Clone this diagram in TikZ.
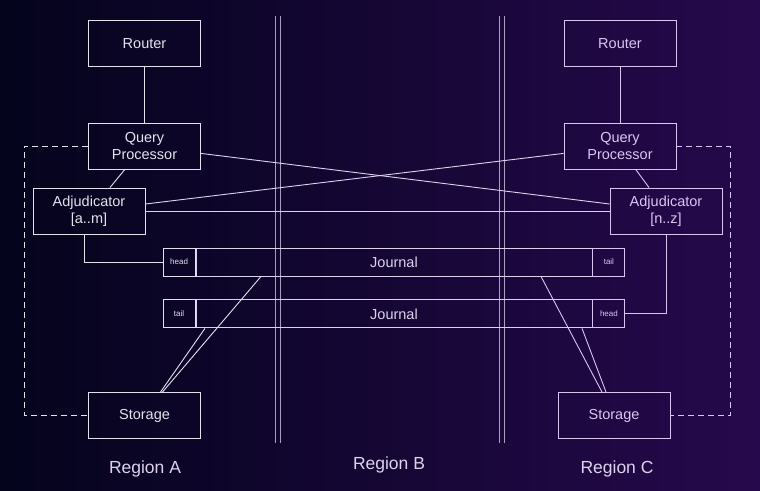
\documentclass[tikz,border=0pt]{standalone}
\usepackage{fontspec}
\setmainfont{Liberation Sans}
\usetikzlibrary{positioning}

\definecolor{bgleft}{HTML}{04041C}
\definecolor{bgright}{HTML}{26094C}
\definecolor{lineA}{HTML}{E2E2EC}
\definecolor{lineB}{HTML}{DDD2EE}
\definecolor{lineC}{HTML}{DCC4F2}

\begin{document}
\begin{tikzpicture}[x=1pt,y=-1pt,
			line width=0.9pt,
			box/.style={
				draw,
				minimum width=112pt,
				minimum height=46pt,
				inner sep=0pt,
				align=center,
				font=\fontsize{14.5}{17}\selectfont
			},
			jbox/.style={draw=lineB, text=lineB, minimum width=396pt, minimum height=28pt,
				inner sep=0pt, font=\fontsize{14.5}{17}\selectfont},
			tag/.style={draw, minimum width=32pt, minimum height=28pt,
				inner sep=0pt, font=\fontsize{8}{9}\selectfont},
			sideA/.style={draw=lineA, text=lineA},
			sideC/.style={draw=lineC, text=lineC},
			region/.style={font=\fontsize{17.5}{20}\selectfont, text=lineB},
			dashlink/.style={dash pattern=on 6pt off 4pt},
			node distance=56pt]
			
			\shade[left color=bgleft, right color=bgright] (0,0) rectangle (760,490);
			\useasboundingbox (0,0) rectangle (760,490);
			
			% region borders
			\foreach \sx in {275,280,499,504}
				\draw[lineB, line width=0.7pt, opacity=0.75] (\sx,16) -- (\sx,443);
			
			% region A
			\node[box, sideA] (routerA) at (144.5,43.5) {Router};
			
			\node[box, sideA, below=of routerA] (queryA) {Query\\Processor};
			
			\node[box, sideA] (adjA) at (89,211) {Adjudicator\\{[a..m]}};
			
			\node[box, sideA] (storA) at (144.5,415.5) {Storage};
			
			% region C
			\node[box, sideC] (routerC) at (620,43.5) {Router};
			
			\node[box, sideC, below=of routerC] (queryC) {Query\\Processor};
			
			\node[box, sideC] (adjC) at (666,211) {Adjudicator\\{[n..z]}};
			
			\node[box, sideC] (storC) at (614,415.5) {Storage};
			
			% journals
			\node[jbox] (journalTop) at (394,262) {Journal};
			
			\node[tag, sideA, left=0pt of journalTop] (headA) {head};
			
			\node[tag, sideC, right=0pt of journalTop] (tailC) {tail};
			
			\node[jbox, below=23pt of journalTop] (journalBot) {Journal};
			
			\node[tag, sideA, left=0pt of journalBot] (tailA) {tail};
			
			\node[tag, sideC, right=0pt of journalBot] (headC) {head};
			
			% labels
			\node[region] (labelA) at (145,469) {Region A};
			
			\node[region] (labelB) at (389,465) {Region B};
			
			\node[region] (labelC) at (617,469) {Region C};
			
			\draw[lineA](routerA)--(queryA);
			
			\draw[lineA]([xshift=-20pt]queryA.south)--([xshift=21pt]adjA.north);
			
			\draw[lineA]([xshift=-5pt]adjA.south)|-(headA);
			
			\draw[lineA, dashlink](queryA.west)--++(-64,0)|-(storA);
			
			\draw[lineA]([xshift=-133pt]journalTop.south)--([xshift=18pt]storA.north);
			
			\draw[lineA]([xshift=-189pt]journalBot.south)--([xshift=16pt]storA.north);
			
			\draw[lineB]([yshift=-7pt]queryA.east)--([yshift=7pt]adjC.west);
			
			\draw[lineB]([yshift=7pt]adjA.east)--([yshift=-7pt]queryC.west);
			
			\draw[lineB](adjA)--(adjC);
			
			\draw[lineC](routerC)--(queryC);
			
			\draw[lineC]([xshift=16pt]queryC.south)--([xshift=-17pt]adjC.north);
			
			\draw[lineC](adjC.south)|-(headC);
			
			\draw[lineC, dashlink](queryC.east)--++(54,0)|-(storC);
			
			\draw[lineC]([xshift=147pt]journalTop.south)--([xshift=-12pt]storC.north);
			
			\draw[lineC]([xshift=188pt]journalBot.south)--([xshift=-8pt]storC.north);
			
		\end{tikzpicture}
\end{document}
